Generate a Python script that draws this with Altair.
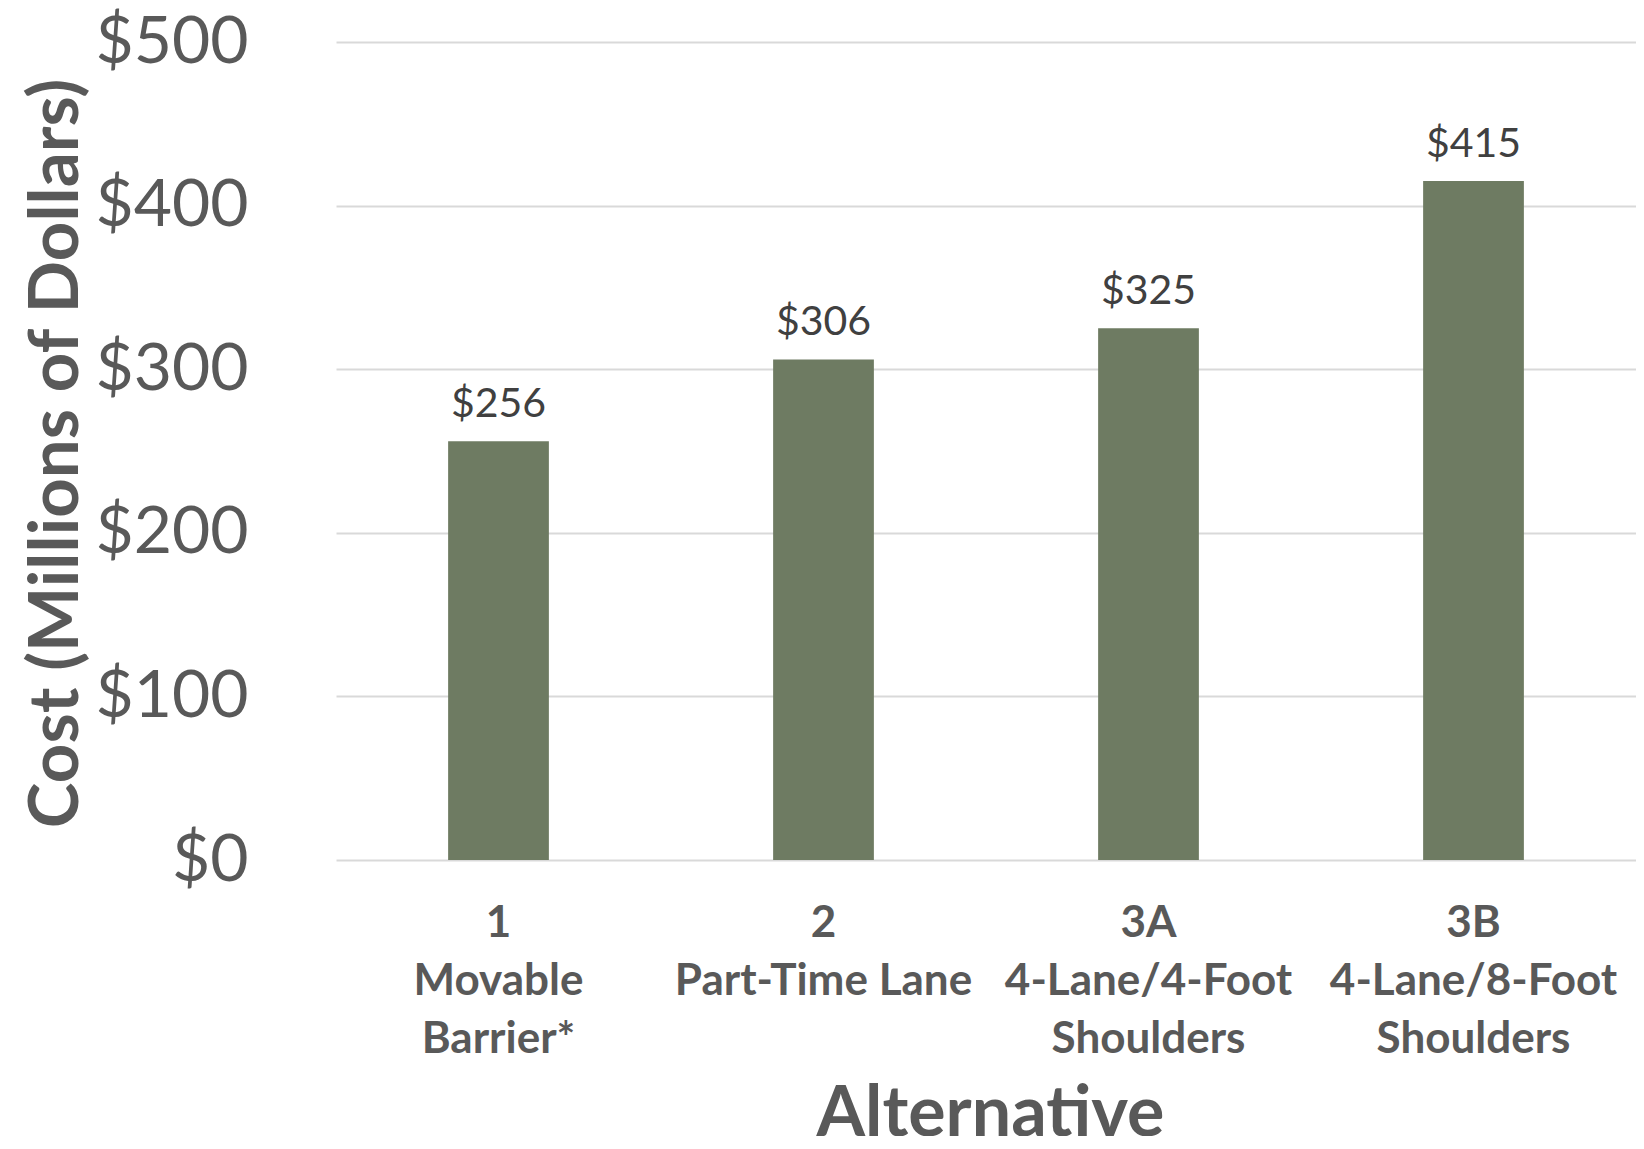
import altair as alt
import pandas as pd

alt_ids = ["1", "2", "3A", "3B"]
alt_line2 = ["Movable", "Part-Time Lane", "4-Lane/4-Foot", "4-Lane/8-Foot"]
alt_line3 = ["Barrier*", "", "Shoulders", "Shoulders"]
costs = [256, 306, 325, 415]
y_ticks = [0, 100, 200, 300, 400, 500]

labels = []
for a, b, c in zip(alt_ids, alt_line2, alt_line3):
    parts = [a, b] + ([c] if c else [])
    labels.append("|".join(parts))

df = pd.DataFrame({"alt": labels, "cost": costs})
df["lbl"] = ["$" + str(v) for v in costs]

FONT = "Lato"
GREY = "#595959"
W = 1300
H = 818

x = alt.X(
    "alt:N",
    sort=labels,
    scale=alt.Scale(paddingInner=0.69, paddingOuter=0.345),
    axis=alt.Axis(
        title="Alternative",
        labelExpr="split(datum.label, '|')",
        labelAngle=0,
        labelFont=FONT,
        labelFontSize=44,
        labelFontWeight="bold",
        labelColor=GREY,
        labelLineHeight=58,
        labelBaseline="top",
        labelPadding=41,
        ticks=False,
        domain=False,
        titleFont=FONT,
        titleFontSize=70,
        titleFontWeight="bold",
        titleColor=GREY,
        titleX=W / 2 + 4,
        titleY=275,
        titleBaseline="alphabetic",
        titleAlign="center",
        labelLimit=0,
    ),
)

y = alt.Y(
    "cost:Q",
    scale=alt.Scale(domain=[0, 500], nice=False),
    axis=alt.Axis(
        title="Cost (Millions of Dollars)",
        values=y_ticks,
        labelExpr="'$' + datum.value",
        labelFont=FONT,
        labelFontSize=66,
        labelColor=GREY,
        labelPadding=88,
        ticks=False,
        domain=False,
        grid=True,
        gridColor="#D9D9D9",
        gridWidth=2,
        titleFont=FONT,
        titleFontSize=69,
        titleFontWeight="bold",
        titleColor=GREY,
        titleX=-259,
        titleY=H / 2 + 2,
        titleAngle=-90,
        titleAlign="center",
        titleBaseline="alphabetic",
    ),
)

bars = alt.Chart(df).mark_bar(color="#6E7B62").encode(x=x, y=y)

text = alt.Chart(df).mark_text(
    font=FONT, fontSize=41, color="#404040", baseline="alphabetic", dy=-24
).encode(x=alt.X("alt:N", sort=labels), y=alt.Y("cost:Q"), text="lbl:N")

chart = (
    alt.layer(bars, text)
    .properties(
        width=W,
        height=H,
        autosize=alt.AutoSizeParams(type="none"),
        padding={"left": 328, "top": 34, "right": 0, "bottom": 276},
        background="white",
    )
    .configure_view(stroke=None)
)

chart.save("out.html", embed_options={"renderer": "svg", "actions": False})
